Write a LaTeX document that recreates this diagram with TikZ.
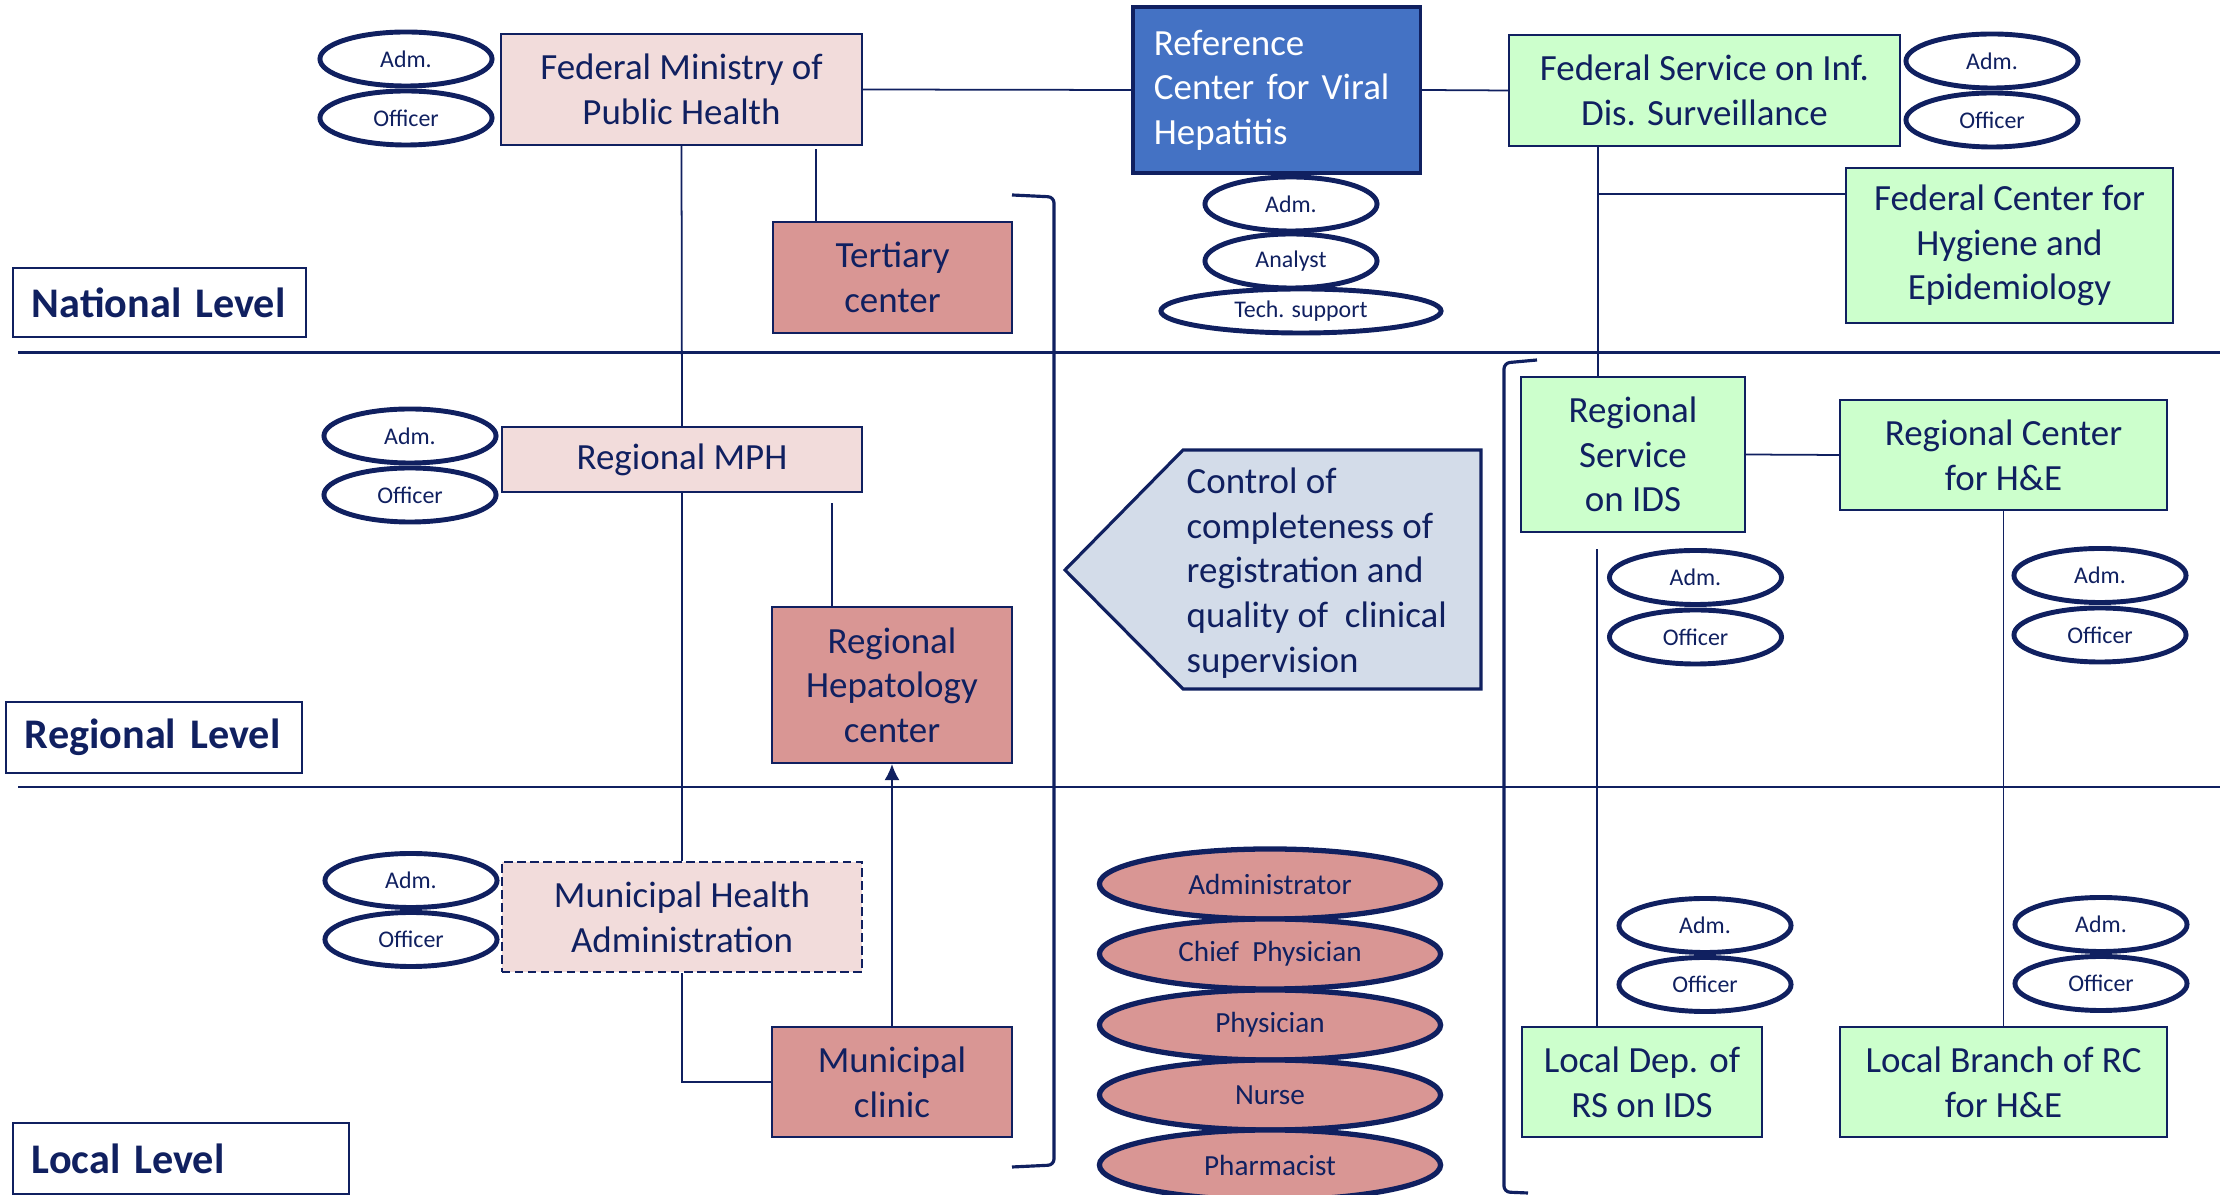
\documentclass[tikz,border=0pt]{standalone}
\usepackage{fontspec}
\setmainfont{Carlito}
\usetikzlibrary{shapes.geometric,arrows.meta}
\definecolor{navy}{RGB}{16,32,96}
\definecolor{lpink}{RGB}{242,220,219}
\definecolor{rose}{RGB}{217,150,148}
\definecolor{lgreen}{RGB}{204,255,204}
\definecolor{rcblue}{RGB}{68,114,196}
\definecolor{ctrlfill}{RGB}{211,220,233}
\begin{document}
\begin{tikzpicture}[x=0.01cm,y=-0.01cm,
  box/.style={draw=navy, line width=0.6pt, text=navy, align=center, inner sep=0pt, font=\fontsize{10.5}{12.7}\selectfont},
  lvl/.style={draw=navy, line width=0.6pt, text=navy, align=left, inner ysep=0pt, inner xsep=0.19cm, font=\bfseries\fontsize{12}{14}\selectfont},
  sm/.style={ellipse, draw=navy, line width=1.4pt, fill=white, text=navy, inner sep=0pt, minimum width=1.72cm, minimum height=0.54cm, font=\fontsize{6.8}{8}\selectfont},
  staff/.style={ellipse, draw=navy, line width=1.5pt, fill=rose, text=navy, inner sep=0pt, minimum width=3.41cm, minimum height=0.70cm, font=\fontsize{8.3}{10}\selectfont},
  conn/.style={draw=navy, line width=0.5pt},
  sep/.style={draw=navy, line width=0.6pt},
  brk/.style={draw=navy, line width=0.9pt, rounded corners=0.06cm}]
\useasboundingbox (0,0) rectangle (2220,1195);

% level separators
\draw[sep] (18,352.5) -- (2220,352.5);
\draw[sep] (18,787) -- (2220,787);

% level labels
\node[lvl, text width=2.55cm, minimum height=0.69cm] (natl) at (159.5,302.5) {National Level};
\node[lvl, text width=2.58cm, minimum height=0.71cm] (regl) at (154,737.5) {Regional Level};
\node[lvl, text width=2.98cm, minimum height=0.71cm] (locl) at (181,1158.5) {Local Level};

% main boxes
\node[box, fill=lpink, minimum width=3.61cm, minimum height=1.11cm] (fmph) at (681.5,89.5) {Federal Ministry of\\Public Health};
\node[box, fill=rcblue, line width=0.9pt, text=white, align=left, text width=2.45cm, inner xsep=0.21cm, minimum height=1.66cm] (rc) at (1276.5,90) {Reference\\Center for Viral\\Hepatitis};
\node[box, fill=lgreen, minimum width=3.91cm, minimum height=1.11cm] (fs) at (1704.5,90.5) {Federal Service on Inf.\\Dis. Surveillance};
\node[box, fill=lgreen, minimum width=3.27cm, minimum height=1.55cm] (fche) at (2009.5,245.5) {Federal Center for\\Hygiene and\\Epidemiology};
\node[box, fill=rose, minimum width=2.39cm, minimum height=1.11cm] (tert) at (892.5,277.5) {Tertiary\\center};
\node[box, fill=lpink, minimum width=3.60cm, minimum height=0.65cm] (rmph) at (682,459.5) {Regional MPH};
\node[box, fill=rose, minimum width=2.40cm, minimum height=1.56cm] (rhc) at (892,685) {Regional\\Hepatology\\center};
\node[box, fill=lpink, dash pattern=on 2.4pt off 1.3pt, minimum width=3.60cm, minimum height=1.10cm] (mha) at (682,917) {Municipal Health\\Administration};
\node[box, fill=rose, minimum width=2.40cm, minimum height=1.10cm] (clinic) at (892,1082) {Municipal\\clinic};
\node[box, fill=lgreen, minimum width=2.24cm, minimum height=1.55cm] (rs) at (1633,454.5) {Regional\\Service\\on IDS};
\node[box, fill=lgreen, minimum width=3.27cm, minimum height=1.10cm] (rche) at (2003.5,455) {Regional Center\\for H\&E};
\node[box, fill=lgreen, minimum width=2.40cm, minimum height=1.10cm] (ld) at (1642,1082) {Local Dep. of\\RS on IDS};
\node[box, fill=lgreen, minimum width=3.27cm, minimum height=1.10cm] (lb) at (2003.5,1082) {Local Branch of RC\\for H\&E};

% control pentagon
\draw[navy, line width=0.9pt, fill=ctrlfill] (1065,570) -- (1183,450) -- (1481,450) -- (1481,689) -- (1183,689) -- cycle;
\node[text=navy, align=left, anchor=west, inner sep=0pt, font=\fontsize{10.5}{12.7}\selectfont] (ctrl) at (1186,573) {Control of\\completeness of\\registration and\\quality of \ clinical\\supervision};

% small ellipses
\node[sm] (fmA) at (406,59) {Adm.};
\node[sm] (fmO) at (406,118) {Officer};
\node[sm] (rcA) at (1291,204) {Adm.};
\node[sm] (rcN) at (1291,261) {Analyst};
\node[sm, minimum width=2.80cm, minimum height=0.44cm] (rcT) at (1301,311) {Tech. support};
\node[sm] (fsA) at (1992,61) {Adm.};
\node[sm] (fsO) at (1992,120) {Officer};
\node[sm] (rmA) at (410,436) {Adm.};
\node[sm] (rmO) at (410,495) {Officer};
\node[sm] (mhA) at (411,880.5) {Adm.};
\node[sm] (mhO) at (411,939.5) {Officer};
\node[sm] (rsA) at (1695.5,577.5) {Adm.};
\node[sm] (rsO) at (1695.5,637) {Officer};
\node[sm] (rcheA) at (2100,575.5) {Adm.};
\node[sm] (rcheO) at (2100,635) {Officer};
\node[sm] (ldA) at (1705,925.5) {Adm.};
\node[sm] (ldO) at (1705,984.5) {Officer};
\node[sm] (lbA) at (2101,924.5) {Adm.};
\node[sm] (lbO) at (2101,983.5) {Officer};

% staff ellipses
\node[staff] (s1) at (1270,884) {Administrator};
\node[staff] (s2) at (1270,954) {Chief \ Physician};
\node[staff] (s3) at (1270,1025) {Physician};
\node[staff] (s4) at (1270,1095) {Nurse};
\node[staff] (s5) at (1270,1165) {Pharmacist};

% helper coordinates
\coordinate (tx) at (816,0);
\coordinate (rx) at (832,0);
\coordinate (fx) at (1598,0);
\coordinate (fy) at (0,194);
\coordinate (lx) at (1597,0);

% connectors
\draw[conn] (fmph.east) -- (rc.west);
\draw[conn] (rc.east) -- (fs.west);
\draw[conn] (fmph.south) -- (rmph.north);
\draw[conn] (rmph.south) -- (mha.north);
\draw[conn] (mha.south) |- (clinic.west);
\draw[conn] ([yshift=-0.03cm]fmph.south -| tx) -- (tert.north -| tx);
\draw[conn] ([yshift=-0.1cm]rmph.south -| rx) -- (rhc.north -| rx);
\draw[conn, -{Latex[length=0.16cm,width=0.15cm]}] (clinic.north) -- (rhc.south);
\draw[conn] (fs.south -| fx) -- (rs.north -| fx);
\draw[conn] (fx |- fy) -- (fche.west |- fy);
\draw[conn] (rs.east) -- (rche.west);
\draw[conn] ([yshift=-0.16cm]rs.south -| lx) -- (ld.north -| lx);
\draw[conn] (rche.south) -- (lb.north);

% brackets
\draw[brk] (1012,195) -- (1054,197) -- (1054,1165) -- (1012,1167);
\draw[brk] (1537,360) -- (1504,363) -- (1504,1192) -- (1528,1193);
\end{tikzpicture}
\end{document}
